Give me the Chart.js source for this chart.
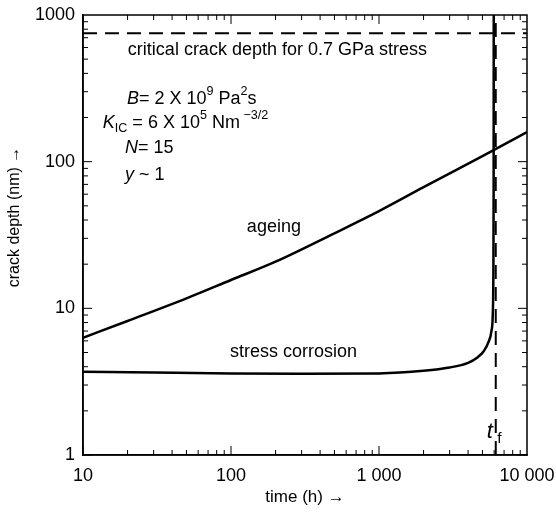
<!DOCTYPE html>
<html>
<head>
<meta charset="utf-8">
<script src="https://cdn.jsdelivr.net/npm/chart.js@4/dist/chart.umd.min.js"></script>
<style>
  body { margin: 0; background: #fff; }
  canvas { display: block; }
</style>
</head>
<body>
<canvas id="crackChart" width="556" height="512"></canvas>
<script>
// values
const timeTicks = [10, 100, 1000, 10000];
const depthTicks = [1, 10, 100, 1000];

const ageingTime = [10, 20, 50, 100, 200, 500, 1000, 2000, 5000, 10000];
const ageingDepth = [6.3, 8.2, 11.7, 15.6, 20.8, 32.5, 46, 67, 109, 159];

const corrosionTime = [10, 30, 100, 300, 1000, 2000, 3000, 4000, 4600, 5100, 5500, 5750, 5870, 5920, 5950, 5960];
const corrosionDepth = [3.7, 3.65, 3.6, 3.58, 3.6, 3.75, 3.95, 4.25, 4.6, 5.1, 5.9, 7.0, 9, 15, 60, 1000];

const criticalDepth = 750;   // nm, dashed horizontal
const failureTime = 6150;    // h, t_f dashed vertical

const FONT = '"Liberation Sans", Arial, sans-serif';

function pts(xs, ys) {
    return xs.map((x, i) => ({ x: x, y: ys[i] }));
}

function spaced(v) {
    return String(v).replace(/\B(?=(\d{3})+(?!\d))/g, ' ');
}

// draws a line of text made of parts: {t, it, sup, sub}
function rich(ctx, x, y, parts, size) {
    let cx = x;
    parts.forEach(p => {
        let s = size, dy = 0;
        if (p.sup) { s = size * 0.7; dy = -size * 0.4; }
        if (p.sub) { s = size * 0.7; dy = size * 0.3; }
        ctx.font = (p.it ? 'italic ' : '') + s + 'px ' + FONT;
        ctx.fillText(p.t, cx, y + dy);
        cx += ctx.measureText(p.t).width;
    });
}

const frameTicks = {
    id: 'frameTicks',
    afterDraw(chart) {
        const { ctx, chartArea: a, scales: { x, y } } = chart;
        ctx.save();
        ctx.strokeStyle = '#000';
        ctx.lineWidth = 1.5;
        ctx.strokeRect(a.left, a.top, a.right - a.left, a.bottom - a.top);

        // inward ticks on all four sides
        ctx.lineWidth = 1;
        ctx.beginPath();
        for (let d = 10; d < 10000; d *= 10) {
            for (let k = 1; k <= 9; k++) {
                const px = x.getPixelForValue(d * k);
                const len = k === 1 ? 9 : 5;
                ctx.moveTo(px, a.bottom); ctx.lineTo(px, a.bottom - len);
                ctx.moveTo(px, a.top); ctx.lineTo(px, a.top + len);
            }
        }
        for (let d = 1; d < 1000; d *= 10) {
            for (let k = 1; k <= 9; k++) {
                const py = y.getPixelForValue(d * k);
                const len = k === 1 ? 9 : 5;
                ctx.moveTo(a.left, py); ctx.lineTo(a.left + len, py);
                ctx.moveTo(a.right, py); ctx.lineTo(a.right - len, py);
            }
        }
        ctx.stroke();

        // annotations
        ctx.fillStyle = '#000';
        ctx.textBaseline = 'middle';
        ctx.textAlign = 'left';
        const X = v => x.getPixelForValue(v);
        const Y = v => y.getPixelForValue(v);

        rich(ctx, X(20.1), Y(577), [{ t: 'critical crack depth for 0.7 GPa stress' }], 18);
        rich(ctx, X(19.8), Y(267), [
            { t: 'B', it: true }, { t: '= 2 X 10' }, { t: '9', sup: true },
            { t: ' Pa' }, { t: '2', sup: true }, { t: 's' }
        ], 18);
        rich(ctx, X(13.6), Y(183), [
            { t: 'K', it: true }, { t: 'IC', sub: true }, { t: ' = 6 X 10' }, { t: '5', sup: true },
            { t: ' Nm' }, { t: ' \u22123/2', sup: true }
        ], 18);
        rich(ctx, X(19.2), Y(124), [{ t: 'N', it: true }, { t: '= 15' }], 18);
        rich(ctx, X(19.2), Y(81.2), [{ t: 'y', it: true }, { t: ' ~ 1' }], 18);
        rich(ctx, X(128), Y(35.9), [{ t: 'ageing' }], 18);
        rich(ctx, X(98.4), Y(5.05), [{ t: 'stress corrosion' }], 18);
        rich(ctx, X(5350), Y(1.44), [{ t: 't', it: true }, { t: ' f', sub: true }], 22);

        // axis titles
        ctx.font = '17px ' + FONT;
        const xt = 'time (h) \u2192';
        rich(ctx, (a.left + a.right) / 2 - ctx.measureText(xt).width / 2, 497, [{ t: xt }], 17);
        ctx.translate(15, 217);
        ctx.rotate(-Math.PI / 2);
        const yt = 'crack depth (nm) \u2192';
        ctx.font = '16px ' + FONT;
        rich(ctx, -ctx.measureText(yt).width / 2, 0, [{ t: yt }], 16);
        ctx.restore();
    }
};

const ctx = document.getElementById('crackChart').getContext('2d');
new Chart(ctx, {
    type: 'line',
    data: {
        datasets: [
            {
                label: 'ageing',
                data: pts(ageingTime, ageingDepth),
                borderColor: '#000',
                borderWidth: 2.5,
                pointRadius: 0,
                cubicInterpolationMode: 'monotone'
            },
            {
                label: 'stress corrosion',
                data: pts(corrosionTime, corrosionDepth),
                borderColor: '#000',
                borderWidth: 2.5,
                pointRadius: 0,
                cubicInterpolationMode: 'monotone'
            },
            {
                label: 'critical',
                data: pts([10, 10000], [criticalDepth, criticalDepth]),
                borderColor: '#000',
                borderWidth: 2,
                borderDash: [14, 8],
                pointRadius: 0
            },
            {
                label: 'tf',
                data: pts([failureTime, failureTime], [1, 1000]),
                borderColor: '#000',
                borderWidth: 2,
                borderDash: [14, 8],
                pointRadius: 0
            }
        ]
    },
    options: {
        responsive: false,
        animation: false,
        layout: { padding: { top: 15, right: 29, left: 0, bottom: 0 } },
        plugins: { legend: { display: false }, tooltip: { enabled: false } },
        scales: {
            x: {
                type: 'logarithmic',
                min: 10,
                max: 10000,
                grid: { display: false, drawTicks: false },
                border: { display: true, color: '#000', width: 1.5 },
                afterBuildTicks: s => { s.ticks = timeTicks.map(v => ({ value: v })); },
                afterFit: s => { s.height = 57; s.paddingLeft = 0; s.paddingRight = 0; },
                ticks: {
                    color: '#000',
                    font: { family: FONT, size: 18 },
                    padding: 10,
                    maxRotation: 0,
                    autoSkip: false,
                    callback: v => spaced(v)
                }
            },
            y: {
                type: 'logarithmic',
                min: 1,
                max: 1000,
                grid: { display: false, drawTicks: false },
                border: { display: true, color: '#000', width: 1.5 },
                afterBuildTicks: s => { s.ticks = depthTicks.map(v => ({ value: v })); },
                afterFit: s => { s.width = 83; s.paddingTop = 0; s.paddingBottom = 0; },
                ticks: {
                    color: '#000',
                    font: { family: FONT, size: 18 },
                    padding: 8,
                    autoSkip: false,
                    callback: v => String(v)
                }
            }
        }
    },
    plugins: [frameTicks]
});
</script>
</body>
</html>
